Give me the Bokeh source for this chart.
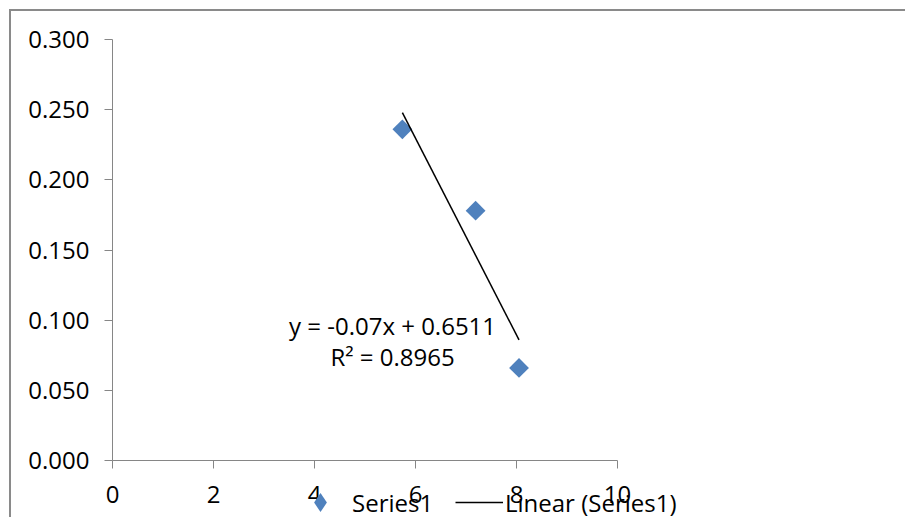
import numpy as np
from bokeh.plotting import figure
from bokeh.models import Range1d, FixedTicker, PrintfTickFormatter, Label, Legend, LegendItem
from bokeh.embed import file_html
from bokeh.resources import INLINE

# ---- data ----
x_vals = [5.74, 7.19, 8.05]
y_vals = [0.236, 0.178, 0.066]
x_ticks = [0, 2, 4, 6, 8, 10]
y_ticks = [0.0, 0.05, 0.10, 0.15, 0.20, 0.25, 0.30]
series_name = "Series1"
trend_name = "Linear (Series1)"
eq_text = "y = -0.07x + 0.6511"
r2_text = "R² = 0.8965"

FONT = "Open Sans"
FS = "24px"
BLUE = "#4F81BD"
AXIS = "#868686"

# ---- layout (canvas pixels); the frame covers the whole canvas, axes are pinned at 0 ----
W, H = 896, 508
X0_PX, X10_PX = 101, 606       # canvas x of x=0 and x=10
Y03_PX, Y0_PX = 28, 449        # canvas y of y=0.3 and y=0
x_min, x_max = 0, 10
y_min, y_max = 0.0, 0.3
xs = (X10_PX - X0_PX) / (x_max - x_min)
ys = (Y0_PX - Y03_PX) / (y_max - y_min)
x_range = Range1d(x_min - X0_PX / xs, x_max + (W - X10_PX) / xs)
y_range = Range1d(y_min - (H - Y0_PX) / ys, y_max + Y03_PX / ys)

p = figure(width=W, height=H, x_range=x_range, y_range=y_range,
           output_backend="svg", toolbar_location=None,
           min_border_left=0, min_border_right=0, min_border_top=0, min_border_bottom=0)
p.styles = {"margin-left": "9px", "margin-top": "9px",
            "border-left": "2px solid #8a8a8a", "border-top": "2px solid #8a8a8a"}
p.xgrid.visible = False
p.ygrid.visible = False
p.outline_line_color = None
p.background_fill_color = "white"
p.border_fill_color = "white"

for ax in (p.xaxis[0], p.yaxis[0]):
    ax.axis_line_color = AXIS
    ax.major_tick_line_color = AXIS
    ax.minor_tick_line_color = None
    ax.major_tick_out = 8
    ax.major_tick_in = 0
    ax.major_label_text_font = FONT
    ax.major_label_text_font_size = FS
    ax.major_label_text_color = "black"

p.xaxis.ticker = FixedTicker(ticks=x_ticks)
p.yaxis.ticker = FixedTicker(ticks=y_ticks)
p.yaxis.formatter = PrintfTickFormatter(format="%.3f")
p.xaxis.bounds = (x_min, x_max)
p.yaxis.bounds = (y_min, y_max)
p.xaxis.fixed_location = 0
p.yaxis.fixed_location = 0
p.xaxis.major_label_standoff = 17
p.yaxis.major_label_standoff = 15

# points
pts = p.scatter(x_vals, y_vals, marker="square", size=14, angle=np.pi / 4,
                fill_color=BLUE, line_color=None)

# linear trendline
slope, intercept = np.polyfit(x_vals, y_vals, 1)
tx = np.array([min(x_vals), max(x_vals)])
trend = p.line(tx, slope * tx + intercept, line_color="black", line_width=1.5)

# equation labels
p.add_layout(Label(x=5.545, y=0.0962, text=eq_text, text_align="center", text_baseline="middle",
                   text_font=FONT, text_font_size=FS, text_color="black"))
p.add_layout(Label(x=5.545, y=0.0741, text=r2_text, text_align="center", text_baseline="middle",
                   text_font=FONT, text_font_size=FS, text_color="black"))

# legend swatch: hidden diamond renderer of the same series (legend ignores marker angle)
swatch = p.scatter(x_vals, y_vals, marker="diamond", size=14, fill_color=BLUE,
                   line_color=None, visible=False)

common = dict(orientation="horizontal", glyph_height=48, padding=0, margin=0,
              border_line_color=None, background_fill_alpha=0, inactive_fill_alpha=0,
              label_text_font=FONT, label_text_font_size=FS, label_text_color="black")
leg1 = Legend(items=[LegendItem(label=series_name, renderers=[swatch])], location=(285, -7),
              glyph_width=48, label_standoff=8, **common)
leg2 = Legend(items=[LegendItem(label=trend_name, renderers=[trend])], location=(444, -7),
              glyph_width=48, label_standoff=2, **common)
p.add_layout(leg1, "center")
p.add_layout(leg2, "center")

open("out.html", "w").write(file_html(p, INLINE))
